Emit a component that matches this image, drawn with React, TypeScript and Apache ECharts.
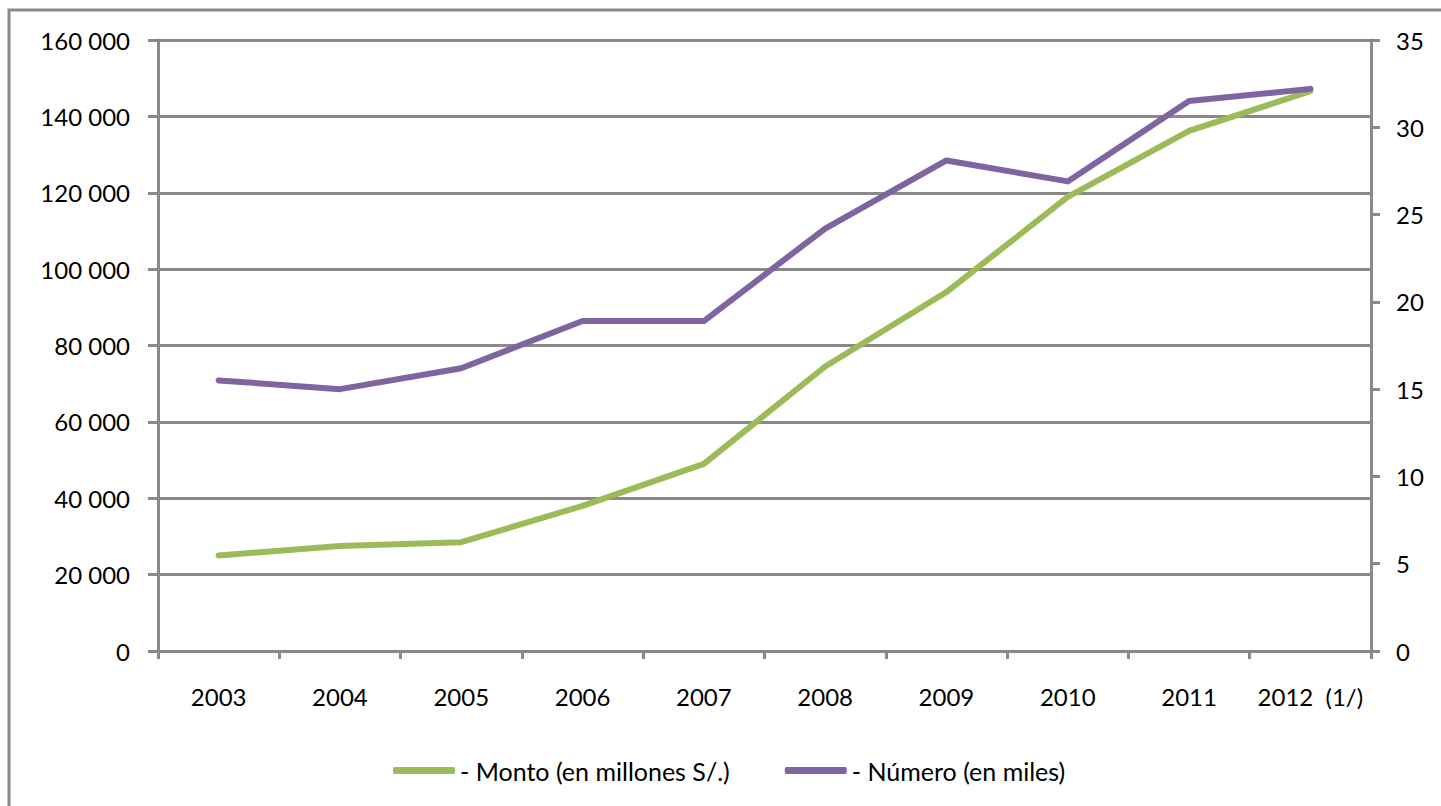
import React, { useEffect, useRef } from "react";
import * as echarts from "echarts";

const categories = ["2003", "2004", "2005", "2006", "2007", "2008", "2009", "2010", "2011", "2012  (1/)"];
const montoValues = [25000, 27500, 28500, 38000, 49000, 74500, 94000, 118900, 136200, 146600];
const numeroValues = [15.5, 15.0, 16.2, 18.9, 18.9, 24.2, 28.1, 26.9, 31.5, 32.2];
const seriesNames = ["- Monto (en millones S/.)", "- Número (en miles)"];

const GREEN = "#9BBB59";
const PURPLE = "#8064A2";
const GRAY = "#898989";
const FONT = "Lato";

export default function App() {
  const ref = useRef<HTMLDivElement>(null);
  useEffect(() => {
    if (!ref.current) return;
    const chart = echarts.init(ref.current, null, { renderer: "svg" });
    chart.setOption({
      animation: false,
      backgroundColor: "#fff",
      textStyle: { fontFamily: FONT },
      graphic: [
        {
          type: "rect",
          shape: { x: 9, y: 10, width: 1500, height: 900 },
          style: { fill: "none", stroke: GRAY, lineWidth: 3 },
          silent: true,
        },
      ],
      grid: { left: 158, right: 70, top: 40, bottom: 155, containLabel: false },
      legend: {
        left: 388,
        top: 753,
        itemWidth: 62,
        itemHeight: 7,
        itemGap: 55,
        itemTextGap: 5,
        icon: "roundRect",
        textStyle: { fontFamily: FONT, fontSize: 25, color: "#000" },
        data: seriesNames,
      },
      xAxis: {
        type: "category",
        data: categories,
        boundaryGap: true,
        axisLine: { lineStyle: { color: GRAY, width: 3 } },
        axisTick: { show: true, interval: 0, length: 8, lineStyle: { color: GRAY, width: 3 } },
        axisLabel: { interval: 0, margin: 33, fontSize: 24, color: "#000", fontFamily: FONT },
      },
      yAxis: [
        {
          type: "value",
          min: 0,
          max: 160000,
          interval: 20000,
          position: "left",
          axisLine: { show: true, lineStyle: { color: GRAY, width: 3 } },
          axisTick: { show: true, length: 10, lineStyle: { color: GRAY, width: 3 } },
          splitLine: { show: true, lineStyle: { color: GRAY, width: 3 } },
          axisLabel: {
            margin: 28,
            fontSize: 24,
            color: "#000",
            fontFamily: FONT,
            formatter: (v: number) => {
              if (v === 0) return "0";
              const th = Math.floor(v / 1000);
              return th + " 000";
            },
          },
        },
        {
          type: "value",
          min: 0,
          max: 35,
          interval: 5,
          position: "right",
          axisLine: { show: true, lineStyle: { color: GRAY, width: 3 } },
          axisTick: { show: true, length: 9, lineStyle: { color: GRAY, width: 3 } },
          splitLine: { show: false },
          axisLabel: { margin: 25, fontSize: 24, color: "#000", fontFamily: FONT },
        },
      ],
      series: [
        {
          name: seriesNames[0],
          type: "line",
          yAxisIndex: 0,
          data: montoValues,
          showSymbol: false,
          symbol: "none",
          color: GREEN,
          lineStyle: { color: GREEN, width: 6, cap: "round", join: "round" },
        },
        {
          name: seriesNames[1],
          type: "line",
          yAxisIndex: 1,
          data: numeroValues,
          showSymbol: false,
          symbol: "none",
          color: PURPLE,
          lineStyle: { color: PURPLE, width: 6, cap: "round", join: "round" },
        },
      ],
    });
    return () => chart.dispose();
  }, []);
  return (
    <div
      ref={ref}
      style={{ position: "fixed", left: 0, top: 0, width: 1441, height: 806 }}
    />
  );
}
